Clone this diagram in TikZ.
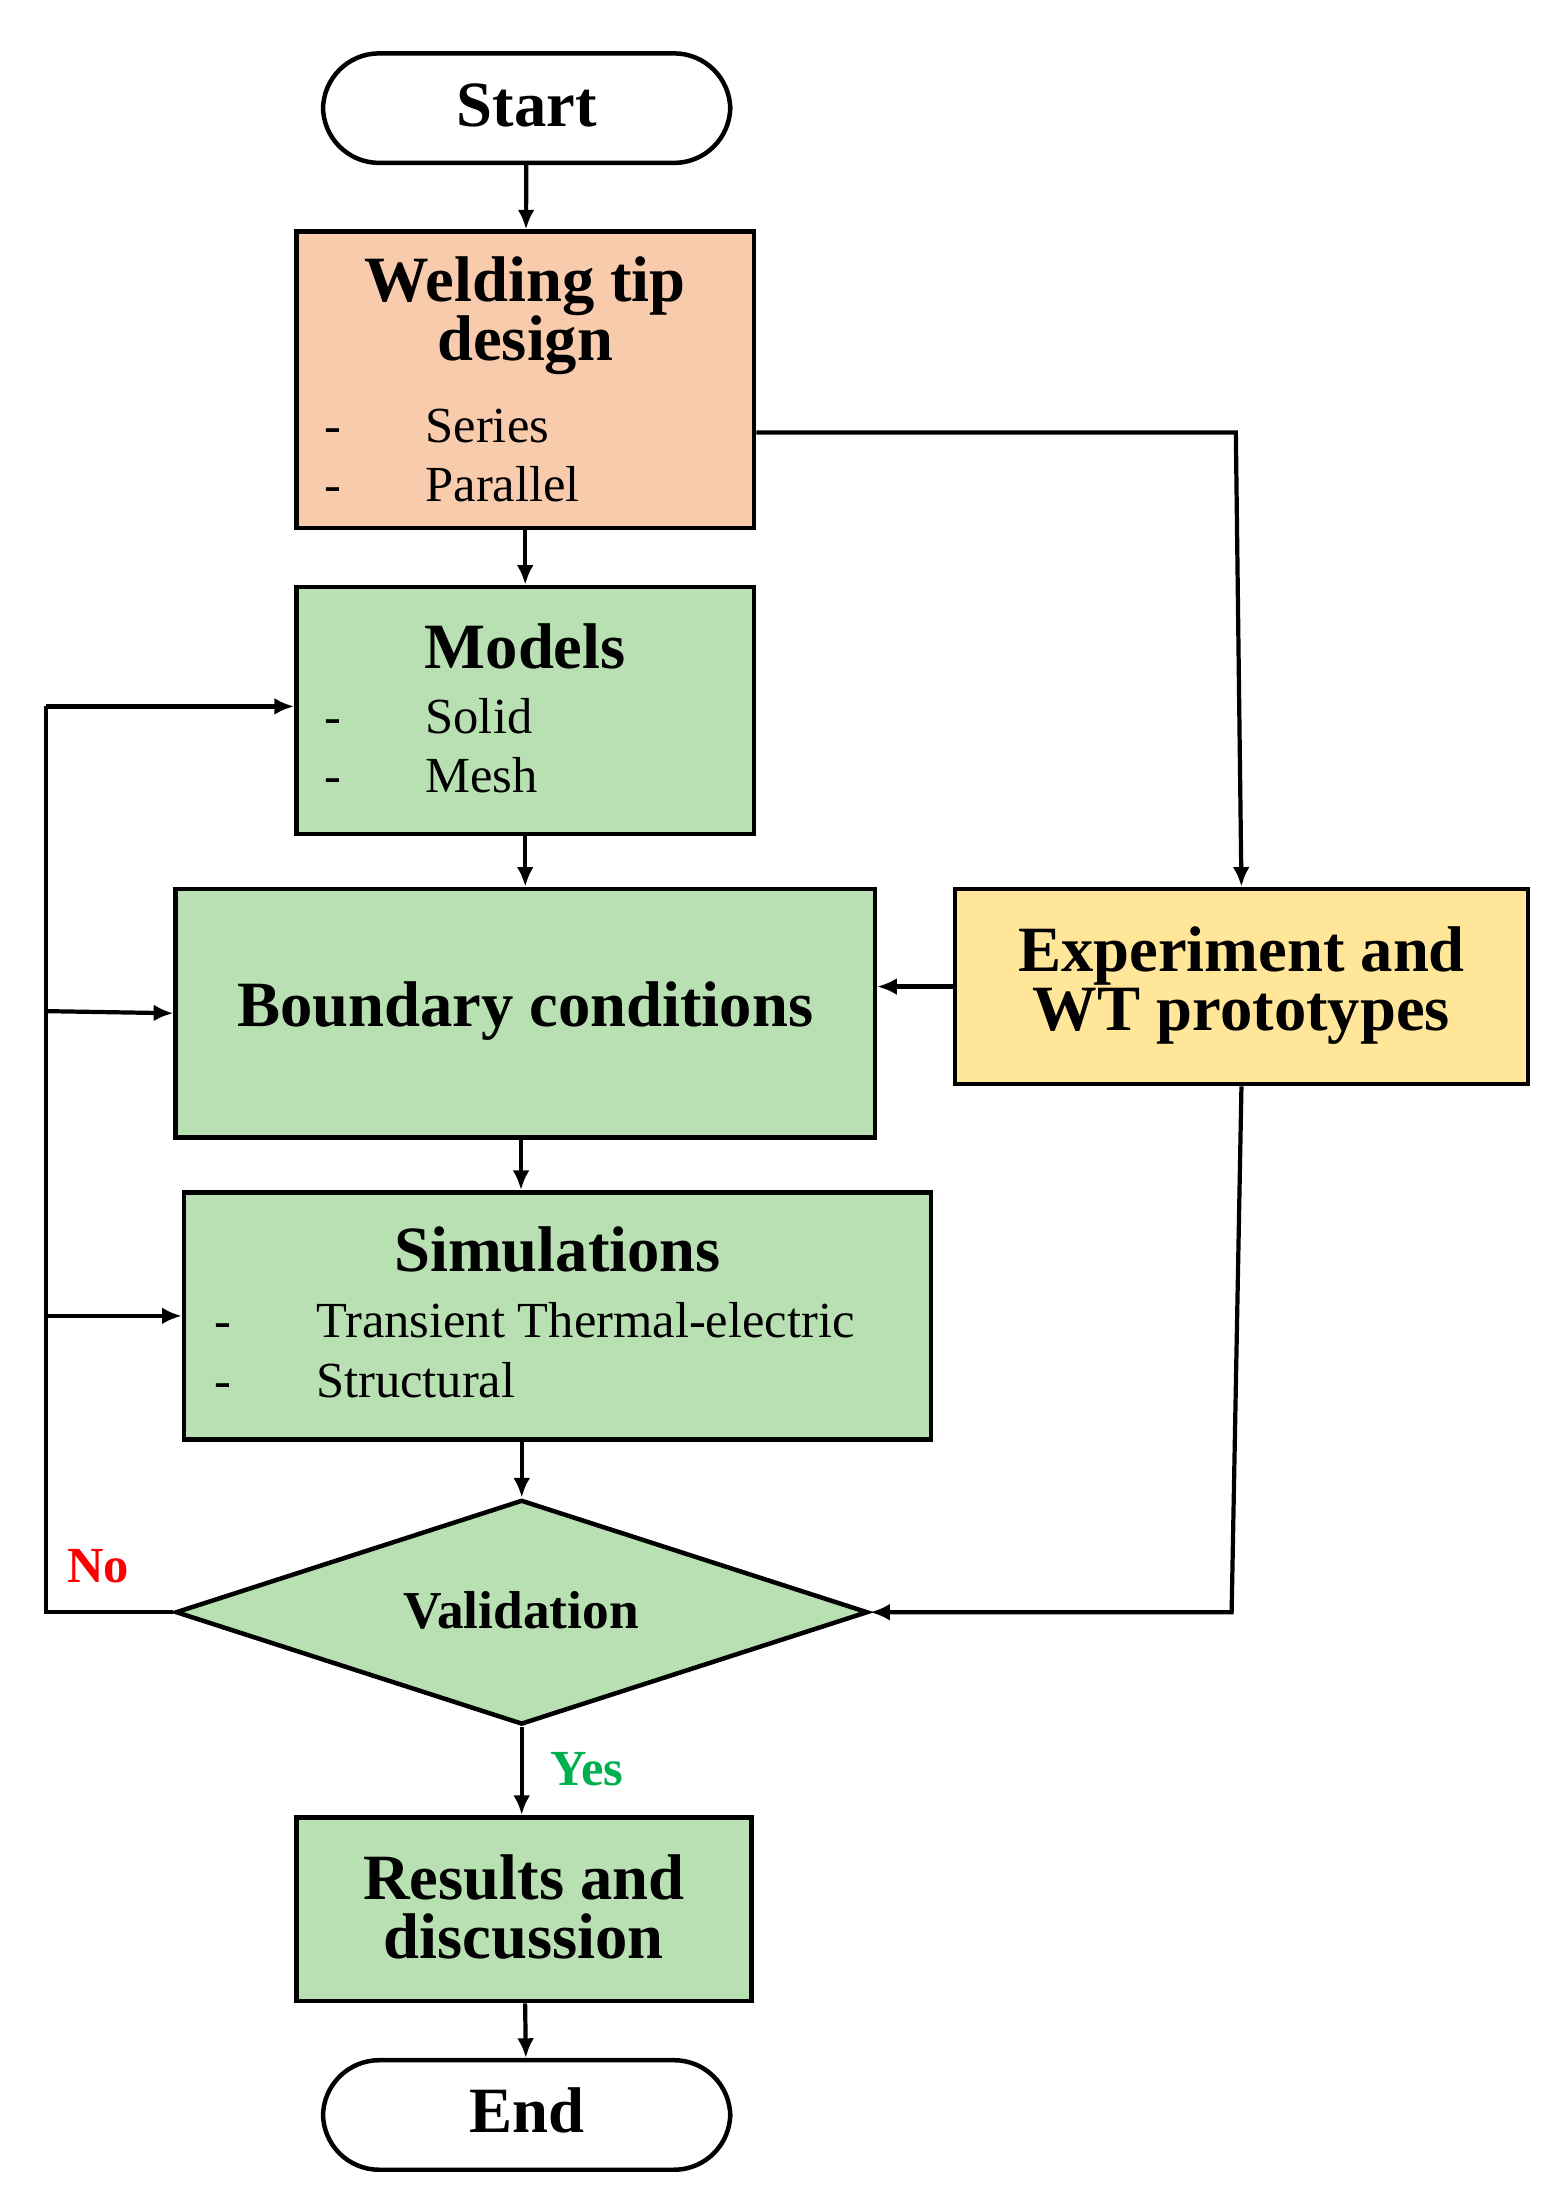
\documentclass[tikz,border=0pt]{standalone}
\usepackage{fontspec}
\setmainfont{Liberation Serif}
\usetikzlibrary{shapes.geometric, positioning, arrows.meta}
\definecolor{salmon}{RGB}{248,203,173}
\definecolor{leaf}{RGB}{185,224,178}
\definecolor{sand}{RGB}{255,230,153}
\tikzset{
  box/.style={draw, line width=1.6pt, inner sep=0pt},
  term/.style={draw, line width=1.6pt, rounded corners=20pt, inner sep=0pt, minimum width=145pt, minimum height=39pt},
  head/.style={font=\fontsize{23}{25}\selectfont\bfseries, align=center},
  item/.style={font=\fontsize{18}{20}\selectfont, anchor=west},
  flow/.style={line width=1.5pt, -{Latex[length=7pt,width=6pt]}},
  link/.style={line width=1.5pt}
}
\begin{document}
\begin{tikzpicture}[x=0.5pt, y=-0.5pt]
\useasboundingbox (0,0) rectangle (1110,1563);
% Boxes
\node[term] (start) at (375,77) {};
\node[head] at (375,75) {Start};
\node[box, fill=salmon, minimum width=163pt, minimum height=105.5pt] (tip) at (374,270.5) {};
\node[box, fill=leaf, minimum width=163pt, minimum height=88pt] (models) at (374,506) {};
\node[box, fill=leaf, minimum width=249pt, minimum height=88.5pt] (bound) at (374,721.5) {};
\node[box, fill=sand, minimum width=204pt, minimum height=69.5pt] (exper) at (884,702.5) {};
\node[box, fill=leaf, minimum width=266pt, minimum height=88pt] (sim) at (397,937) {};
\node[draw, line width=1.6pt, fill=leaf, diamond, aspect=3.08, inner sep=0pt, minimum width=246.5pt, minimum height=80pt] (valid) at (371.5,1148) {};
\node[box, fill=leaf, minimum width=162pt, minimum height=65.5pt] (result) at (373,1359.5) {};
\node[term] (stop) at (375,1506) {};

% Texts
\node[head] at (374,225) {Welding tip\\[-4pt]design};
\node[item] at (224,303) {-\hspace{30pt}Series};
\node[item] at (224,345) {-\hspace{30pt}Parallel};
\node[head] at (374,460) {Models};
\node[item] at (224,510) {-\hspace{30pt}Solid};
\node[item] at (224,552) {-\hspace{30pt}Mesh};
\node[head] at (374,720) {Boundary conditions};
\node[head] at (884,702) {Experiment and\\[-4pt]WT prototypes};
\node[head] at (397,890) {Simulations};
\node[item] at (146,940) {-\hspace{30pt}Transient Thermal-electric};
\node[item] at (146,983) {-\hspace{30pt}Structural};
\node[font=\fontsize{19}{21}\selectfont\bfseries] at (371,1147) {Validation};
\node[head] at (373,1358) {Results and\\[-4pt]discussion};
\node[head] at (375,1503) {End};
\node[font=\fontsize{18}{20}\selectfont\bfseries, text=red] at (70,1115) {No};
\node[font=\fontsize{18}{20}\selectfont\bfseries, text={rgb,255:red,0;green,176;blue,80}] at (418,1260) {Yes};

% Main flow
\draw[flow] (start) -- (tip);
\draw[flow] (tip) -- (models);
\draw[flow] (models) -- (bound);
\draw[flow] (bound.south -| 371,0) -- (sim.north -| 371,0);
\draw[flow] (sim.south -| valid.north) -- (valid);
\draw[flow] (valid) -- (result.north -| valid.south);
\draw[flow] (result) -- (stop);

% Loop back
\coordinate (back) at (33,1148);
\draw[link] (valid.west) -- (back) -- (33,503);
\draw[flow] (33,503) -- (models.west |- 0,503);
\draw[flow] (33,720) -- (bound.west);
\draw[flow] (33,937) -- (sim.west);

% Experiment branch
\draw[flow] (tip.east |- 0,308) -- (880,308) -- (exper.north);
\draw[flow] (exper.west) -- (bound.east |- exper.west);
\draw[flow] (exper.south) -- (877,1148) -- (valid.east);
\end{tikzpicture}
\end{document}
